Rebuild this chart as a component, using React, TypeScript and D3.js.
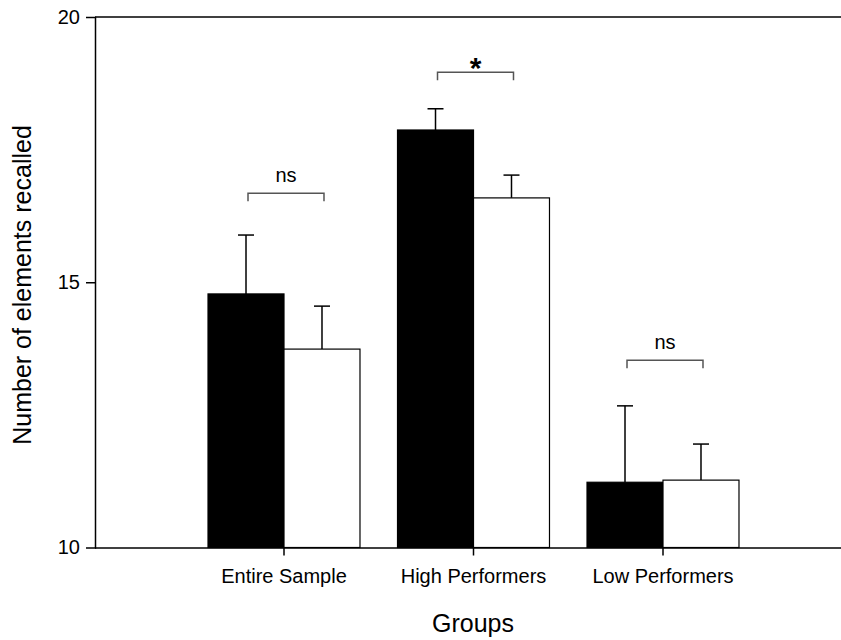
import React, { useEffect, useRef } from 'react';
import * as d3 from 'd3';

const groups = ['Entire Sample', 'High Performers', 'Low Performers'];
const seriesKeys = ['black', 'white'];
const blackMeans = [14.78, 17.87, 11.23];
const blackErrTop = [15.89, 18.27, 12.67];
const whiteMeans = [13.74, 16.59, 11.27];
const whiteErrTop = [14.55, 17.02, 11.95];
const sigLabels = ['ns', '*', 'ns'];
const sigLevels = [16.68, 18.96, 13.53];
const yTicks = [10, 15, 20];

const W = 841;
const H = 640;
const FONT = '"Liberation Sans", Arial, sans-serif';

const App = () => {
  const svgRef = useRef<SVGSVGElement>(null);

  useEffect(() => {
    const svg = d3.select(svgRef.current);
    svg.selectAll('*').remove();

    const left = 95;
    const top = 17;
    const bottom = 547.5;

    const x = d3.scaleBand<string>()
      .domain(groups)
      .range([189.25, 757.75])
      .paddingInner(0.198)
      .paddingOuter(0.099);

    const xs = d3.scaleBand<string>()
      .domain(seriesKeys)
      .range([0, x.bandwidth()])
      .padding(0);

    const y = d3.scaleLinear().domain([10, 20]).range([bottom, top]);

    const rows = groups.map((g, i) => ({
      g,
      vals: [
        { k: 'black', v: blackMeans[i], e: blackErrTop[i] },
        { k: 'white', v: whiteMeans[i], e: whiteErrTop[i] },
      ],
    }));

    // bars
    const gBars = svg.append('g');
    rows.forEach(r => {
      r.vals.forEach(d => {
        const bx = x(r.g)! + xs(d.k)!;
        const cx = bx + xs.bandwidth() / 2;
        // error bar (upper only)
        gBars.append('line')
          .attr('x1', cx).attr('x2', cx)
          .attr('y1', y(d.v)).attr('y2', y(d.e))
          .attr('stroke', '#000').attr('stroke-width', 1.5);
        gBars.append('line')
          .attr('x1', cx - 8).attr('x2', cx + 8)
          .attr('y1', y(d.e)).attr('y2', y(d.e))
          .attr('stroke', '#000').attr('stroke-width', 1.5);
        gBars.append('rect')
          .attr('x', bx)
          .attr('y', y(d.v))
          .attr('width', xs.bandwidth())
          .attr('height', bottom - y(d.v))
          .attr('fill', d.k === 'black' ? '#000' : '#fff')
          .attr('stroke', '#000')
          .attr('stroke-width', 1.2);
      });
    });

    // significance brackets
    groups.forEach((g, i) => {
      const x1 = x(g)! + xs('black')! + xs.bandwidth() / 2 + 2;
      const x2 = x(g)! + xs('white')! + xs.bandwidth() / 2 + 2;
      const yy = y(sigLevels[i]);
      svg.append('path')
        .attr('d', `M${x1},${yy + 8}V${yy}H${x2}V${yy + 8}`)
        .attr('fill', 'none')
        .attr('stroke', '#555')
        .attr('stroke-width', 1.5);
      const isStar = sigLabels[i] === '*';
      svg.append('text')
        .attr('x', (x1 + x2) / 2)
        .attr('y', isStar ? yy + 6 : yy - 11)
        .attr('text-anchor', 'middle')
        .attr('font-family', FONT)
        .attr('font-size', isStar ? 30 : 20)
        .attr('font-weight', isStar ? 'bold' : 'normal')
        .text(sigLabels[i]);
    });

    // frame lines
    svg.append('line')
      .attr('x1', left).attr('x2', W).attr('y1', top).attr('y2', top)
      .attr('stroke', '#000').attr('stroke-width', 1.5);

    // y axis
    const yAxis = svg.append('g')
      .attr('transform', `translate(${left},0)`)
      .call(d3.axisLeft(y).tickValues(yTicks).tickSize(9).tickPadding(6).tickFormat(d3.format('d')));
    yAxis.select('.domain').attr('stroke-width', 1.5);
    yAxis.selectAll('.tick line')
      .attr('stroke-width', 1.5)
      .attr('opacity', (d: any) => (d === 15 ? 1 : 0));
    yAxis.selectAll('.tick text')
      .attr('font-family', FONT)
      .attr('font-size', 20)
      .attr('fill', '#000');

    // x axis
    const xAxis = svg.append('g')
      .attr('transform', `translate(0,${bottom})`)
      .call(d3.axisBottom(x).tickSize(8).tickPadding(13).tickSizeOuter(0));
    xAxis.select('.domain').attr('d', `M${left},0.5H${W}`).attr('stroke-width', 1.5);
    xAxis.selectAll('.tick line').attr('stroke-width', 1.5);
    xAxis.selectAll('.tick text')
      .attr('font-family', FONT)
      .attr('font-size', 20)
      .attr('fill', '#000');

    // axis titles
    svg.append('text')
      .attr('x', 473)
      .attr('y', 632)
      .attr('text-anchor', 'middle')
      .attr('font-family', FONT)
      .attr('font-size', 25)
      .text('Groups');

    svg.append('text')
      .attr('transform', `translate(31,285) rotate(-90)`)
      .attr('text-anchor', 'middle')
      .attr('font-family', FONT)
      .attr('font-size', 25)
      .text('Number of elements recalled');
  }, []);

  return (
    <svg
      ref={svgRef}
      width={W}
      height={H}
      style={{ position: 'absolute', left: 0, top: 0, background: '#fff' }}
    />
  );
};

export default App;
